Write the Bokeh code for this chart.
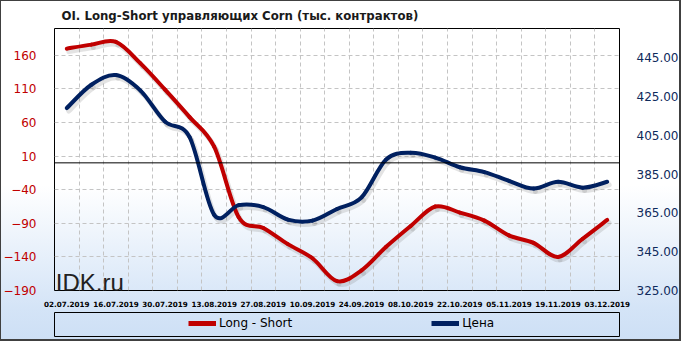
from bokeh.plotting import figure
from bokeh.layouts import column
from bokeh.models import (Range1d, LinearAxis, FixedTicker, Span, Legend, LegendItem,
                          Label, Grid, NumeralTickFormatter)
from bokeh.embed import file_html
from bokeh.resources import INLINE

dates = ["02.07.2019", "09.07.2019", "16.07.2019", "23.07.2019", "30.07.2019",
         "06.08.2019", "13.08.2019", "20.08.2019", "27.08.2019", "03.09.2019",
         "10.09.2019", "17.09.2019", "24.09.2019", "01.10.2019", "08.10.2019",
         "15.10.2019", "22.10.2019", "29.10.2019", "05.11.2019", "12.11.2019",
         "19.11.2019", "26.11.2019", "03.12.2019"]
long_short = [170, 176, 180, 148, 109, 68, 24, -81, -97, -121, -142, -176, -160,
              -125, -94, -65, -74, -86, -108, -119, -140, -113, -85]
price = [419, 431, 436, 428, 412, 404, 364, 369, 368, 361.5, 361, 367, 373,
         392.5, 396, 393.5, 388.5, 386, 381.5, 377.5, 381, 378, 381]
left_ticks = [-190, -140, -90, -40, 10, 60, 110, 160]
right_ticks = [325, 345, 365, 385, 405, 425, 445]
title_text = "OI.  Long-Short  управляющих  Corn  (тыс. контрактов)"
series_names = ["Long - Short", "Цена"]

RED = "#c00000"
BLUE = "#002060"


def smooth(ys, dx=0.0, dy=0.0):
    """Catmull-Rom control points (Excel-like smoothed line) for bezier segments."""
    n = len(ys)
    xs = list(range(n))
    d = dict(x0=[], y0=[], x1=[], y1=[], cx0=[], cy0=[], cx1=[], cy1=[])
    for i in range(n - 1):
        xa, ya = (xs[i - 1], ys[i - 1]) if i > 0 else (xs[i], ys[i])
        xd, yd = (xs[i + 2], ys[i + 2]) if i + 2 < n else (xs[i + 1], ys[i + 1])
        d["x0"].append(xs[i] + dx); d["y0"].append(ys[i] + dy)
        d["x1"].append(xs[i + 1] + dx); d["y1"].append(ys[i + 1] + dy)
        d["cx0"].append(xs[i] + (xs[i + 1] - xa) / 6 + dx)
        d["cy0"].append(ys[i] + (ys[i + 1] - ya) / 6 + dy)
        d["cx1"].append(xs[i + 1] - (xd - xs[i]) / 6 + dx)
        d["cy1"].append(ys[i + 1] - (yd - ys[i]) / 6 + dy)
    return d


def clear_bg(model):
    for attr in ("background_fill_color", "border_fill_color"):
        try:
            setattr(model, attr, None)
        except Exception:
            pass


BEZ = dict(x0="x0", y0="y0", x1="x1", y1="y1", cx0="cx0", cy0="cy0", cx1="cx1", cy1="cy1")

fig = figure(width=681, height=309, output_backend="svg", toolbar_location=None,
             x_range=Range1d(-0.5, len(dates) - 0.5), y_range=Range1d(-190, 200),
             min_border_left=46, min_border_right=56, min_border_top=28,
             min_border_bottom=14)
fig.extra_y_ranges = {"price": Range1d(325, 460)}
fig.border_fill_color = None
fig.border_fill_alpha = 0
fig.background_fill_color = None
fig.outline_line_color = "black"
fig.outline_line_width = 1
fig.styles = {"background": "linear-gradient(180deg, #ffffff 0%, #ffffff 60%, #d4e4f7 100%)",
              "box-shadow": "inset 1px 1px 0 0 #404040, inset -2px 0 0 0 #404040"}

fig.title.text = title_text
fig.title.align = "left"
fig.title.offset = 7
fig.title.standoff = 12
fig.title.text_font = "DejaVu Sans"
fig.title.text_font_style = "bold"
fig.title.text_font_size = "11.75px"
fig.title.text_color = "#1a1a1a"
clear_bg(fig.title)

# x axis
xa = fig.xaxis[0]
xa.ticker = FixedTicker(ticks=list(range(0, len(dates), 2)))
xa.major_label_overrides = {i: dates[i] for i in range(0, len(dates), 2)}
xa.axis_line_color = None
xa.major_tick_line_color = None
xa.minor_tick_line_color = None
xa.major_label_standoff = 4
xa.major_label_text_font = "DejaVu Sans"
xa.major_label_text_font_style = "bold"
xa.major_label_text_font_size = "7.2px"
xa.major_label_text_color = "black"
clear_bg(xa)

# left axis
ya = fig.yaxis[0]
ya.ticker = FixedTicker(ticks=left_ticks)
ya.axis_line_color = None
ya.major_tick_line_color = None
ya.minor_tick_line_color = None
ya.major_label_standoff = 12
ya.major_label_text_font = "DejaVu Sans"
ya.major_label_text_font_size = "12px"
ya.major_label_text_color = RED
clear_bg(ya)

# right axis
ra = LinearAxis(y_range_name="price", ticker=FixedTicker(ticks=right_ticks),
                formatter=NumeralTickFormatter(format="0.00"))
ra.axis_line_color = None
ra.major_tick_line_color = None
ra.minor_tick_line_color = None
ra.major_label_standoff = 11
ra.major_label_text_font = "DejaVu Sans"
ra.major_label_text_font_size = "12px"
ra.major_label_text_color = "#0f2a5c"
clear_bg(ra)
fig.add_layout(ra, "right")

# grids
fig.xgrid.grid_line_color = None
fig.ygrid.grid_line_color = "#c4c4c4"
fig.ygrid.grid_line_dash = "4 3"
vgrid = Grid(dimension=0, ticker=FixedTicker(ticks=[i + 0.5 for i in range(len(dates) - 1)]),
             grid_line_color="#c4c4c4", grid_line_dash="4 3")
fig.add_layout(vgrid)
fig.add_layout(Span(location=0, dimension="width", line_color="black", line_width=1))

fig.add_layout(Label(x=-0.45, y=-178, text="IDK.ru", text_font="Liberation Sans",
                     text_font_size="24px", text_color="#222222",
                     text_baseline="alphabetic"))

# soft drop shadows (about 2px right, 3px down), then the series lines
fig.bezier(source=smooth(long_short, 0.08, -4.4), **BEZ,
           line_color="#7f7f7f", line_alpha=0.22, line_width=5, line_cap="round")
fig.bezier(source=smooth(price, 0.08, -1.5), **BEZ,
           line_color="#7f7f7f", line_alpha=0.22, line_width=5, line_cap="round",
           y_range_name="price")
rs = fig.bezier(source=smooth(long_short), **BEZ,
                line_color=RED, line_width=4, line_cap="round")
rp = fig.bezier(source=smooth(price), **BEZ,
                line_color=BLUE, line_width=4, line_cap="round", y_range_name="price")

# legend strip (its frame outline is the legend box)
leg = figure(width=681, height=32, output_backend="svg", toolbar_location=None,
             x_range=Range1d(0, 1), y_range=Range1d(0, 1),
             x_axis_type=None, y_axis_type=None,
             min_border_left=49, min_border_right=49, min_border_top=3,
             min_border_bottom=5)
leg.border_fill_color = None
leg.background_fill_color = None
leg.outline_line_color = "black"
leg.outline_line_width = 1
leg.grid.visible = False
leg.styles = {"background": "linear-gradient(180deg, #d4e4f7 0%, #cddff5 100%)",
              "box-shadow": "inset 1px -2px 0 0 #404040, inset -2px 0 0 0 #404040"}
nan = float("nan")
lr = leg.line(x=[nan], y=[nan], line_color=RED, line_width=5)
lb = leg.line(x=[nan], y=[nan], line_color=BLUE, line_width=5)
legend = Legend(items=[LegendItem(label=series_names[0], renderers=[lr]),
                       LegendItem(label=series_names[1], renderers=[lb])],
                orientation="horizontal", location=(134, 6), padding=0, margin=0,
                spacing=139, glyph_width=28, glyph_height=12, label_standoff=3,
                border_line_color=None, background_fill_alpha=0,
                label_text_font="DejaVu Sans", label_text_font_size="12px",
                label_text_color="black")
leg.add_layout(legend)

p = column(fig, leg, spacing=0)

open("out.html", "w").write(file_html(p, INLINE))
